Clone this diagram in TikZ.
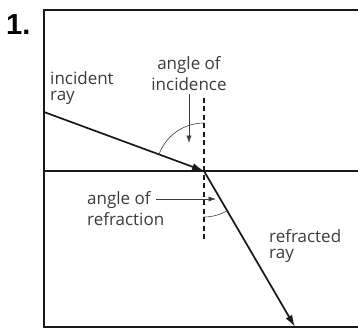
\documentclass[tikz,border=0pt]{standalone}
\usepackage{fontspec}
\setmainfont{Open Sans}
\newfontfamily\numfont{Liberation Sans}
\usetikzlibrary{arrows.meta,calc}
\definecolor{rayDark}{RGB}{25,25,25}
\definecolor{rayGray}{RGB}{60,60,60}

\begin{document}
\begin{tikzpicture}[x=1pt,y=-1pt,
    lbl/.style={align=left,inner sep=0pt,text=rayGray,font=\fontsize{17}{16.5}\selectfont},
    anglelbl/.style={lbl,font=\fontsize{17}{21}\selectfont},
    ray/.style={-{Latex[length=4.2mm,width=2.6mm]},rayDark,line width=1.7pt},
    pointer/.style={-{Latex[length=2.6mm,width=1.8mm]},rayGray,line width=0.6pt},
    normal/.style={rayDark,line width=1.1pt,dash pattern=on 5pt off 3.5pt},
    anglearc/.style={rayGray,line width=0.6pt}]
  \useasboundingbox (0,0) rectangle (358,331);
  % frame and surface
  \draw[rayDark,line width=1.4pt] (362,10) -| (44,327) -- (362,327);
  \draw[rayDark,line width=1.1pt] (44,171) -- (362,171);
  \node[anchor=north west,inner sep=0pt,font=\numfont\fontsize{29}{30}\bfseries\selectfont] (num) at (6,14) {1.};
  % rays
  \coordinate (O) at (204,171);
  \coordinate (src) at (44,112);
  \coordinate (dst) at (295,327);
  \draw[normal] (204,98) -- (204,242);
  \draw[ray] (src) -- (O);
  \draw[ray,shorten <=-0.5pt] (O) -- (dst);
  % angles
  \draw[anglearc] ($(O)+(-159.8:48)$) arc[start angle=-159.8,end angle=-90,radius=48];
  \draw[anglearc] ($(O)+(90:46)$) arc[start angle=90,end angle=59.7,radius=46];
  % labels
  \node[lbl,anchor=north west] (inray) at (50,71) {incident\\ray};
  \node[anglelbl,anchor=north,align=center] (inc) at (189,56) {angle of\\incidence};
  \node[anglelbl,anchor=north west] (refr) at (87,191) {angle of\\refraction};
  \node[lbl,anchor=north west] (outray) at (269,229) {refracted\\ray};
  \coordinate (incTip) at (189,143);
  \coordinate (refrTail) at (156,199);
  \coordinate (refrTip) at (216,199);
  \draw[pointer] (inc.south -| incTip) ++(0,3) -- (incTip);
  \draw[pointer] (refrTail) -- (refrTip);
\end{tikzpicture}
\end{document}
